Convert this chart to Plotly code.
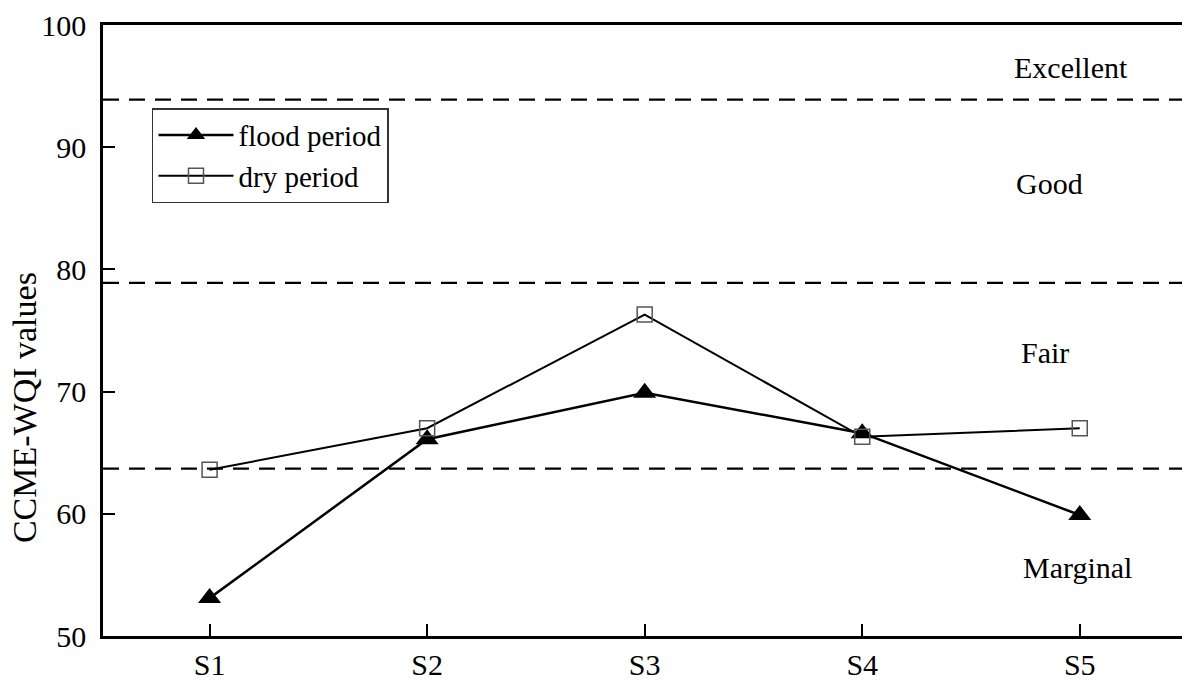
import plotly.graph_objects as go

sites = ["S1", "S2", "S3", "S4", "S5"]
flood = [53.1, 66.1, 69.9, 66.6, 59.9]
dry = [63.6, 67.0, 76.3, 66.3, 67.0]
thresholds = [93.9, 78.9, 63.7]
class_labels = ["Excellent", "Good", "Fair", "Marginal"]
class_label_y = [96.5, 87.0, 73.2, 55.6]
class_label_x = [4.96, 4.86, 4.84, 4.99]
y_title = "CCME-WQI values"

xs = [1, 2, 3, 4, 5]
font = "Liberation Serif"

fig = go.Figure()
fig.add_trace(go.Scatter(x=xs, y=flood, mode="lines+markers", name="flood period",
                         line=dict(color="black", width=2.5),
                         marker=dict(symbol="triangle-up", size=20, color="black")))
fig.add_trace(go.Scatter(x=xs, y=dry, mode="lines+markers", name="dry period",
                         line=dict(color="black", width=2),
                         marker=dict(symbol="square-open", size=15, color="#555555",
                                     line=dict(width=1.5))))

for t in thresholds:
    fig.add_shape(type="line", xref="paper", x0=0, x1=1, yref="y", y0=t, y1=t,
                  line=dict(color="black", width=2.2, dash="16px,10px"))

for lbl, lx, ly in zip(class_labels, class_label_x, class_label_y):
    fig.add_annotation(x=lx, y=ly, text=lbl, showarrow=False,
                       font=dict(family=font, size=30, color="black"))

fig.add_annotation(xref="paper", yref="paper", x=-0.0732, y=0.373, text=y_title,
                   textangle=-90, showarrow=False, xanchor="center", yanchor="middle",
                   font=dict(family=font, size=34, color="black"))

fig.update_layout(
    width=1182, height=680,
    margin=dict(l=103, r=0, t=25, b=44, autoexpand=False),
    paper_bgcolor="white", plot_bgcolor="white",
    font=dict(family=font, size=30, color="black"),
    showlegend=True,
    legend=dict(x=0.0454, y=0.864, xanchor="left", yanchor="top",
                bordercolor="#333333", borderwidth=1.5, bgcolor="white",
                font=dict(family=font, size=29), itemwidth=75,
                tracegroupgap=0),
)
fig.update_xaxes(range=[0.51, 5.47], tickvals=xs, ticktext=sites, automargin=False,
                 showgrid=False, zeroline=False,
                 showline=True, linecolor="black", linewidth=2.5, mirror=True,
                 ticks="inside", ticklen=12, tickwidth=2.2, tickcolor="black",
                 tickfont=dict(family=font, size=30))
fig.update_yaxes(range=[50, 100], dtick=10, showgrid=False, zeroline=False, automargin=False,
                 showline=True, linecolor="black", linewidth=2.5,
                 ticks="inside", ticklen=12, tickwidth=2.2, tickcolor="black",
                 tickfont=dict(family=font, size=30), ticklabelstandoff=8)

fig.write_html("out.html", config={"displayModeBar": False},
               post_script="document.body.style.margin='0';document.body.style.overflow='hidden';")
